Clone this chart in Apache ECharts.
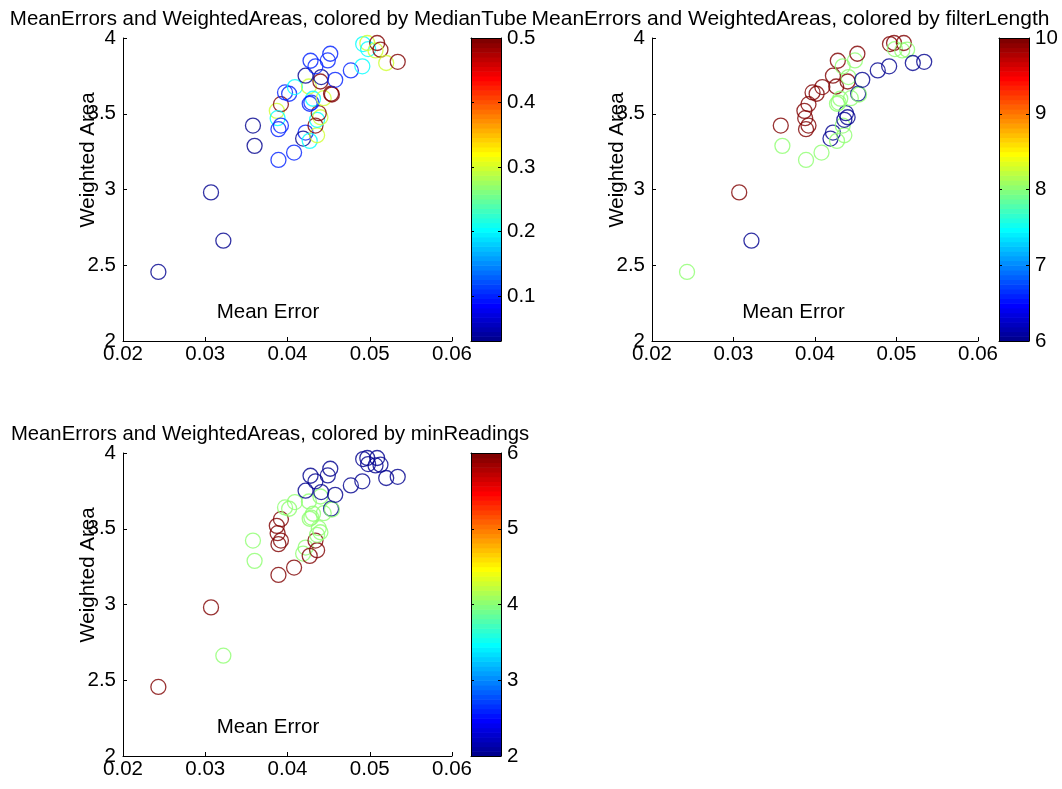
<!DOCTYPE html>
<html>
<head>
<meta charset="utf-8">
<script src="https://cdn.jsdelivr.net/npm/echarts@6/dist/echarts.min.js"></script>
<style>
  html, body { margin: 0; padding: 0; background: #fff; }
  #chart { width: 1062px; height: 789px; }
</style>
</head>
<body>
<div id="chart"></div>
<script>
// Per-run results: mean error vs. weighted area, plus the three tuning parameters
const meanError = [
  0.0243, 0.0307, 0.0322, 0.0358, 0.0360, 0.0389, 0.0408, 0.0422, 0.0419, 0.0427,
  0.0436, 0.0434, 0.0436, 0.0440, 0.0438, 0.0387, 0.0392, 0.0388, 0.0389, 0.0392,
  0.0397, 0.0402, 0.0409, 0.0426, 0.0431, 0.0429, 0.0427, 0.0444, 0.0440, 0.0441,
  0.0453, 0.0454, 0.0422, 0.0428, 0.0434, 0.0449, 0.0452, 0.0458, 0.0477, 0.0491,
  0.0492, 0.0497, 0.0498, 0.0509, 0.0507, 0.0513, 0.0520, 0.0534
];
const weightedArea = [
  2.456, 2.981, 2.662, 3.422, 3.288, 3.195, 3.244, 3.376, 3.336, 3.321,
  3.358, 3.422, 3.460, 3.477, 3.504, 3.519, 3.563, 3.471, 3.398, 3.422,
  3.641, 3.632, 3.676, 3.680, 3.599, 3.574, 3.566, 3.603, 3.713, 3.742,
  3.632, 3.627, 3.751, 3.850, 3.813, 3.852, 3.896, 3.724, 3.786, 3.813,
  3.960, 3.967, 3.927, 3.967, 3.918, 3.923, 3.835, 3.843
];
const medianTube = [
  0.03, 0.03, 0.03, 0.03, 0.03, 0.1, 0.1, 0.1, 0.03, 0.2,
  0.3, 0.5, 0.2, 0.3, 0.5, 0.3, 0.5, 0.2, 0.1, 0.1,
  0.1, 0.1, 0.2, 0.3, 0.2, 0.1, 0.1, 0.3, 0.5, 0.03,
  0.5, 0.5, 0.03, 0.1, 0.1, 0.1, 0.1, 0.1, 0.1, 0.2,
  0.2, 0.3, 0.2, 0.5, 0.3, 0.5, 0.3, 0.5
];
const filterLength = [
  8, 10, 6, 10, 8, 8, 8, 6, 6, 8,
  8, 8, 6, 6, 6, 10, 10, 10, 10, 10,
  10, 10, 10, 10, 8, 8, 8, 8, 10, 8,
  6, 8, 10, 10, 8, 8, 10, 6, 6, 6,
  10, 10, 8, 10, 8, 8, 6, 6
];
const minReadings = [
  6, 6, 4, 4, 4, 6, 6, 4, 4, 6,
  6, 6, 4, 4, 4, 6, 6, 6, 6, 6,
  4, 4, 4, 4, 4, 4, 4, 4, 4, 2,
  2, 4, 2, 2, 2, 2, 2, 2, 2, 2,
  2, 2, 2, 2, 2, 2, 2, 2
];

// Axis ticks
const xTicks = [0.02, 0.03, 0.04, 0.05, 0.06];
const yTicks = [2, 2.5, 3, 3.5, 4];
const medianTubeTicks = [0.1, 0.2, 0.3, 0.4, 0.5];
const filterLengthTicks = [6, 7, 8, 9, 10];
const minReadingsTicks = [2, 3, 4, 5, 6];

const FONT = "'Liberation Sans', Arial, Helvetica, sans-serif";
const FS = 20.5;

// MATLAB-style jet colormap with m entries
function jetColormap(m) {
  const n = Math.ceil(m / 4);
  const u = [];
  for (let k = 1; k <= n; k++) u.push(k / n);
  for (let k = 1; k < n; k++) u.push(1);
  for (let k = n; k >= 1; k--) u.push(k / n);
  const g0 = Math.ceil(n / 2) - (m % 4 === 1 ? 1 : 0);
  const map = Array.from({ length: m }, () => [0, 0, 0]);
  u.forEach((val, k) => {
    const g = g0 + k + 1, r = g + n, b = g - n;
    if (r >= 1 && r <= m) map[r - 1][0] = val;
    if (g >= 1 && g <= m) map[g - 1][1] = val;
    if (b >= 1 && b <= m) map[b - 1][2] = val;
  });
  return map.map(c => 'rgb(' + c.map(v => Math.round(v * 255)).join(',') + ')');
}
const JET = jetColormap(64);

function colorIndex(v, lo, hi) {
  const i = Math.floor((v - lo) / (hi - lo) * JET.length);
  return Math.max(0, Math.min(JET.length - 1, i));
}

// Panel layout: scatter plot box and its colorbar box
const panels = [
  { title: 'MeanErrors and WeightedAreas, colored by MedianTube', c: medianTube, ticks: medianTubeTicks,
    plot: { left: 123, top: 38, width: 329, height: 303 },
    bar: { left: 471, top: 38, width: 30, height: 303 },
    titleX: 268.5, titleY: 19, titleSize: 20.5, xlabX: 268, xlabY: 312, ylabX: 88, ylabY: 160 },
  { title: 'MeanErrors and WeightedAreas, colored by filterLength', c: filterLength, ticks: filterLengthTicks,
    plot: { left: 652, top: 38, width: 326, height: 303 },
    bar: { left: 999, top: 38, width: 30, height: 303 },
    titleX: 790.5, titleY: 19, titleSize: 21, xlabX: 793.5, xlabY: 312, ylabX: 617, ylabY: 160 },
  { title: 'MeanErrors and WeightedAreas, colored by minReadings', c: minReadings, ticks: minReadingsTicks,
    plot: { left: 123, top: 453, width: 329, height: 303 },
    bar: { left: 471, top: 453, width: 30, height: 303 },
    titleX: 270, titleY: 434, titleSize: 20.3, xlabX: 268, xlabY: 727, ylabX: 88, ylabY: 575 }
];

const labelStyle = { color: '#000', fontSize: FS, fontFamily: FONT };
const lineStyle = { color: '#000', width: 1 };

const option = {
  animation: false,
  backgroundColor: '#fff',
  title: [], grid: [], xAxis: [], yAxis: [], series: [], graphic: []
};

panels.forEach(p => {
  const cmin = Math.min(...p.c), cmax = Math.max(...p.c);

  option.title.push({
    text: p.title, left: p.titleX, top: p.titleY, textAlign: 'center', textVerticalAlign: 'middle', padding: 0,
    textStyle: { color: '#000', fontSize: p.titleSize, fontWeight: 'normal', fontFamily: FONT }
  });

  // scatter plot
  const gi = option.grid.length;
  option.grid.push(Object.assign({ outerBoundsMode: 'none', containLabel: false }, p.plot));
  const sx = option.xAxis.length;
  option.xAxis.push({
    type: 'value', gridIndex: gi, min: xTicks[0], max: xTicks[xTicks.length - 1], interval: 0.01,
    axisLine: { show: true, lineStyle }, splitLine: { show: false },
    axisTick: { show: true, inside: true, length: 4, lineStyle },
    axisLabel: { show: true, margin: 3, ...labelStyle, formatter: v => v.toFixed(2) }
  });
  const sy = option.yAxis.length;
  option.yAxis.push({
    type: 'value', gridIndex: gi, min: yTicks[0], max: yTicks[yTicks.length - 1], interval: 0.5,
    axisLine: { show: true, lineStyle }, splitLine: { show: false },
    axisTick: { show: true, inside: true, length: 4, lineStyle },
    axisLabel: { show: true, margin: 7, ...labelStyle }
  });
  option.series.push({
    type: 'scatter', xAxisIndex: sx, yAxisIndex: sy, silent: true,
    symbol: 'circle', symbolSize: 15,
    data: meanError.map((x, i) => ({
      value: [x, weightedArea[i], p.c[i]],
      itemStyle: { color: 'rgba(0,0,0,0)', borderColor: JET[colorIndex(p.c[i], cmin, cmax)], borderWidth: 1.3 }
    }))
  });

  // colorbar
  const bi = option.grid.length;
  option.grid.push(Object.assign({ outerBoundsMode: 'none', containLabel: false }, p.bar));
  const bx = option.xAxis.length;
  option.xAxis.push({
    type: 'value', gridIndex: bi, min: 0, max: 1, position: 'bottom', z: 5,
    axisLine: { show: true, lineStyle }, axisTick: { show: false }, axisLabel: { show: false }, splitLine: { show: false }
  });
  option.xAxis.push({
    type: 'value', gridIndex: bi, min: 0, max: 1, position: 'top', z: 5,
    axisLine: { show: true, lineStyle }, axisTick: { show: false }, axisLabel: { show: false }, splitLine: { show: false }
  });
  const by = option.yAxis.length;
  option.yAxis.push({
    type: 'value', gridIndex: bi, min: cmin, max: cmax, position: 'right', z: 5,
    axisLine: { show: true, onZero: false, lineStyle }, splitLine: { show: false },
    axisTick: { show: true, inside: true, length: 3, lineStyle, customValues: p.ticks },
    axisLabel: { show: true, margin: 6, ...labelStyle, customValues: p.ticks }
  });
  option.yAxis.push({
    type: 'value', gridIndex: bi, min: cmin, max: cmax, position: 'left', z: 5,
    axisLine: { show: true, onZero: false, lineStyle }, splitLine: { show: false },
    axisTick: { show: true, inside: true, length: 3, lineStyle, customValues: p.ticks },
    axisLabel: { show: false }
  });
  option.series.push({
    type: 'custom', xAxisIndex: bx, yAxisIndex: by, silent: true, z: 1,
    data: [[0, cmin, cmax]],
    renderItem: (params, api) => {
      const n = JET.length, children = [];
      for (let i = 0; i < n; i++) {
        const lo = cmin + (cmax - cmin) * i / n, hi = cmin + (cmax - cmin) * (i + 1) / n;
        const a = api.coord([0, hi]), b = api.coord([1, lo]);
        children.push({
          type: 'rect',
          shape: { x: a[0], y: a[1], width: b[0] - a[0], height: b[1] - a[1] + 0.6 },
          style: { fill: JET[i] }
        });
      }
      return { type: 'group', children };
    }
  });

  // axis labels
  option.graphic.push({
    type: 'text', x: p.xlabX, y: p.xlabY, silent: true,
    style: { text: 'Mean Error', fill: '#000', font: FS + 'px ' + FONT, align: 'center', verticalAlign: 'middle' }
  });
  option.graphic.push({
    type: 'text', x: p.ylabX, y: p.ylabY, rotation: Math.PI / 2, silent: true,
    style: { text: 'Weighted Area', fill: '#000', font: FS + 'px ' + FONT, align: 'center', verticalAlign: 'middle' }
  });
});

const chart = echarts.init(document.getElementById('chart'), null, { renderer: 'canvas' });
chart.setOption(option);
</script>
</body>
</html>
